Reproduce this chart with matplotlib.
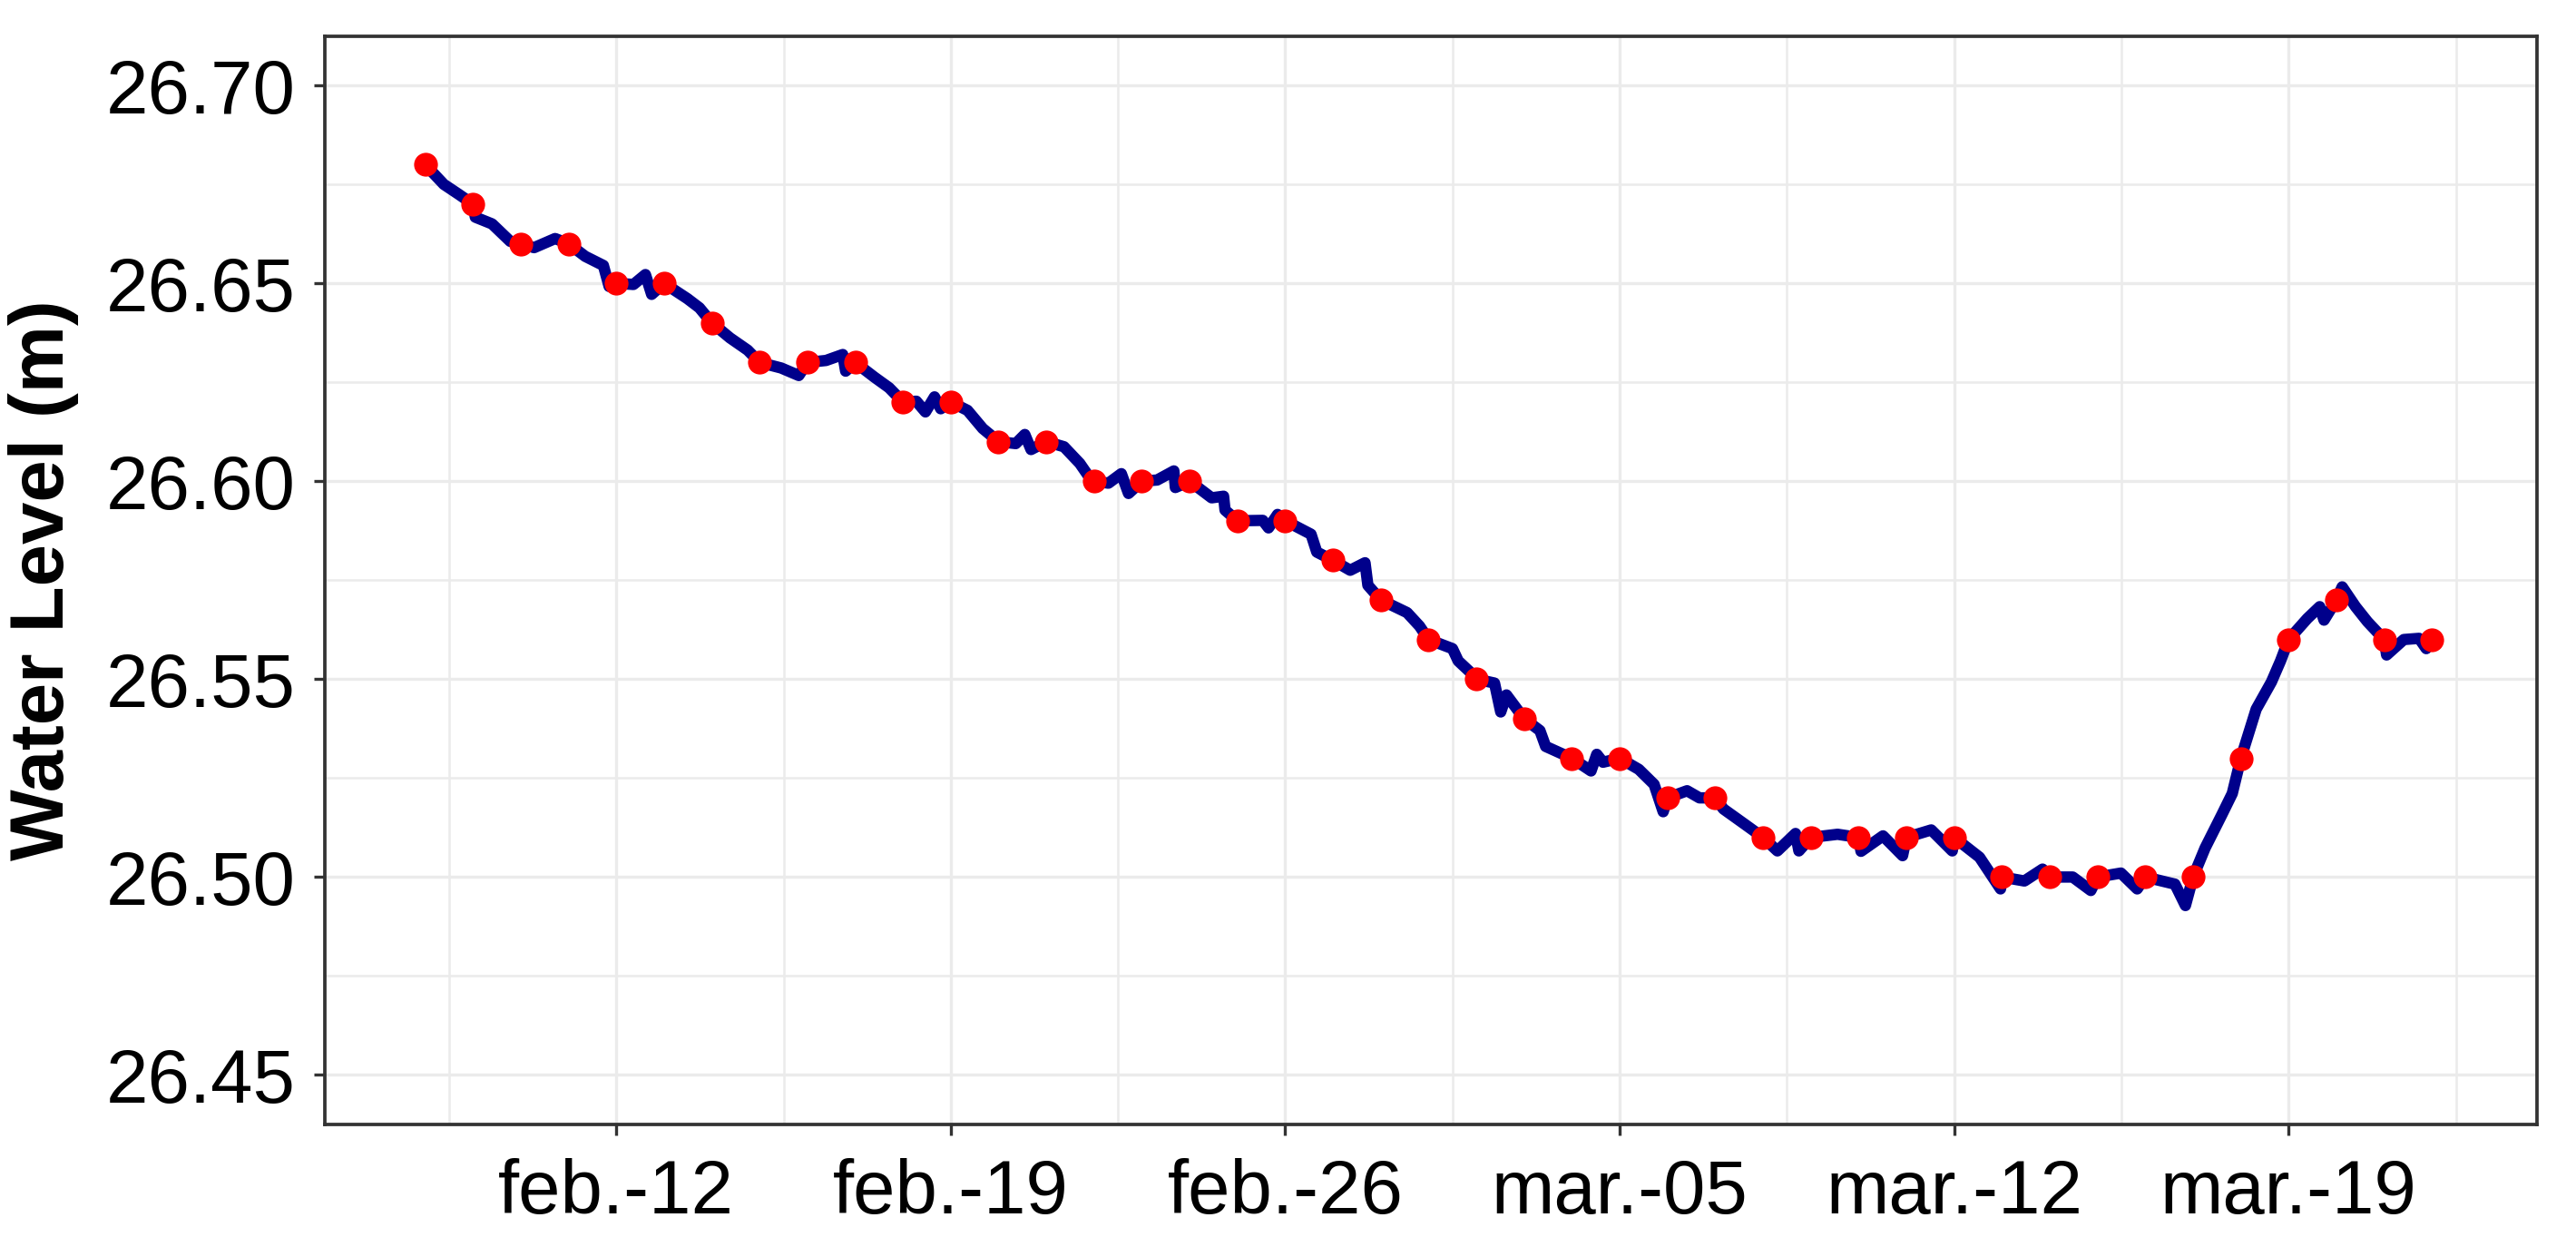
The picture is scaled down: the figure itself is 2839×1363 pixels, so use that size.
import numpy as np
import pandas as pd
import matplotlib
matplotlib.use("Agg")
import matplotlib.pyplot as plt
import matplotlib.dates as mdates

plt.rcParams['font.family'] = ['Liberation Sans', 'DejaVu Sans']

# continuous logger record: days after feb-12, water level (m)
line_day = [-4.0, -3.61, -3.3, -3.0, -2.95, -2.6, -2.22, -2.0, -1.72, -1.28, -1.0,
            -0.65, -0.27, -0.15, 0.0, 0.36, 0.61, 0.74, 1.0, 1.49, 1.74, 2.0, 2.38,
            2.75, 3.0, 3.45, 3.82, 4.0, 4.39, 4.74, 4.80, 5.0, 5.40, 5.71, 6.0, 6.28,
            6.47, 6.66, 6.79, 7.0, 7.35, 7.67, 8.0, 8.36, 8.55, 8.68, 9.0, 9.37, 9.7,
            9.9, 10.0, 10.3, 10.57, 10.72, 11.0, 11.32, 11.67, 11.70, 12.0, 12.46,
            12.71, 12.74, 13.0, 13.53, 13.65, 13.84, 14.0, 14.54, 14.66, 15.0, 15.36,
            15.67, 15.73, 16.0, 16.55, 16.81, 17.0, 17.5, 17.62, 17.85, 18.0, 18.38,
            18.51, 18.63, 19.0, 19.33, 19.45, 20.0, 20.4, 20.52, 20.65, 21.0, 21.4,
            21.72, 21.91, 22.0, 22.41, 22.67, 23.0, 23.17, 23.61, 24.0, 24.3, 24.68,
            24.75, 25.0, 25.56, 26.0, 26.05, 26.51, 26.92, 27.0, 27.52, 27.96, 28.0,
            28.53, 28.97, 29.0, 29.47, 29.85, 30.0, 30.48, 30.86, 31.0, 31.49, 31.83,
            32.0, 32.62, 32.84, 33.0, 33.25, 33.6, 33.82, 34.0, 34.32, 34.64, 34.83,
            35.0, 35.39, 35.65, 35.74, 36.0, 36.12, 36.40, 36.65, 37.0, 37.05, 37.41,
            37.73, 37.88, 38.0, 38.1]
line_level = [26.680, 26.675, 26.6725, 26.670, 26.6667, 26.665, 26.6606, 26.660,
              26.659, 26.6613, 26.660, 26.6568, 26.6545, 26.6492, 26.650, 26.6497,
              26.6522, 26.6472, 26.650, 26.6461, 26.6438, 26.640, 26.6362, 26.6331,
              26.630, 26.6286, 26.6267, 26.630, 26.6305, 26.6320, 26.6278, 26.630,
              26.6263, 26.6236, 26.620, 26.6202, 26.6175, 26.6213, 26.6183, 26.620,
              26.6179, 26.6133, 26.610, 26.6095, 26.6118, 26.6080, 26.610, 26.6087,
              26.6045, 26.601, 26.600, 26.5995, 26.6019, 26.5969, 26.600, 26.6003,
              26.6026, 26.5984, 26.600, 26.5958, 26.5962, 26.5927, 26.590, 26.5901,
              26.5882, 26.5916, 26.590, 26.5866, 26.5821, 26.580, 26.5775, 26.5794,
              26.5737, 26.570, 26.5668, 26.5634, 26.560, 26.5577, 26.5546, 26.552,
              26.550, 26.549, 26.5417, 26.546, 26.540, 26.537, 26.533, 26.530,
              26.5268, 26.531, 26.529, 26.530, 26.5272, 26.5234, 26.5165, 26.520,
              26.5218, 26.520, 26.520, 26.5172, 26.5134, 26.510, 26.5066, 26.511,
              26.5066, 26.510, 26.5108, 26.510, 26.5065, 26.5104, 26.5054, 26.510,
              26.5119, 26.5066, 26.510, 26.5050, 26.4970, 26.500, 26.499, 26.502,
              26.500, 26.500, 26.4966, 26.500, 26.501, 26.497, 26.500, 26.4982,
              26.4928, 26.500, 26.5073, 26.5157, 26.5211, 26.530, 26.5424, 26.5493,
              26.5546, 26.560, 26.5653, 26.5683, 26.5649, 26.570, 26.5733, 26.5683,
              26.5645, 26.560, 26.5561, 26.560, 26.5603, 26.5577, 26.560, 26.560]

# daily readings (red points)
point_first, point_last = "2021-02-08", "2021-03-22"
point_level = [26.68, 26.67, 26.66, 26.66, 26.65, 26.65, 26.64, 26.63, 26.63, 26.63,
               26.62, 26.62, 26.61, 26.61, 26.60, 26.60, 26.60, 26.59, 26.59, 26.58,
               26.57, 26.56, 26.55, 26.54, 26.53, 26.53, 26.52, 26.52, 26.51, 26.51,
               26.51, 26.51, 26.51, 26.50, 26.50, 26.50, 26.50, 26.50, 26.53, 26.56,
               26.57, 26.56, 26.56]

xtick_dates = ["2021-02-12", "2021-02-19", "2021-02-26", "2021-03-05", "2021-03-12", "2021-03-19"]
xtick_labels = ["feb.-12", "feb.-19", "feb.-26", "mar.-05", "mar.-12", "mar.-19"]
yticks = [26.45, 26.50, 26.55, 26.60, 26.65, 26.70]

ref = pd.Timestamp("2021-02-12")
line_time = ref + pd.to_timedelta(line_day, unit="D")
point_time = pd.date_range(point_first, point_last, freq="D")

fig = plt.figure(figsize=(2839 / 300, 1363 / 300), dpi=300)
ax = fig.add_axes([0.126, 0.091, 0.859, 0.880])

ax.plot(line_time, line_level, color="#00008B", lw=3.0, solid_joinstyle="round",
        solid_capstyle="round", zorder=3)
ax.plot(point_time, point_level, "o", color="red", ms=6.3, mec="none", zorder=4)

# axis limits with ggplot-like 5 % expansion
x0 = mdates.date2num(line_time[0])
x1 = mdates.date2num(line_time[-1])
ax.set_xlim(x0 - 0.05 * (x1 - x0), x1 + 0.05 * (x1 - x0))
ax.set_ylim(26.45 - 0.0125, 26.70 + 0.0125)

xt = mdates.date2num(pd.to_datetime(xtick_dates))
ax.set_xticks(xt)
ax.set_xticklabels(xtick_labels)
step = xt[1] - xt[0]
ax.set_xticks(np.r_[xt[0] - step / 2, xt + step / 2], minor=True)
ax.set_yticks(yticks)
ax.set_yticklabels([f"{v:.2f}" for v in yticks])
ax.set_yticks(np.array(yticks[:-1]) + 0.025, minor=True)

ax.grid(True, which="major", color="#EBEBEB", lw=0.8, zorder=0)
ax.grid(True, which="minor", color="#EBEBEB", lw=0.6, zorder=0)
ax.set_axisbelow(True)

ax.tick_params(which="major", length=2.8, width=0.8, color="#333333",
               labelsize=20, labelcolor="black")
ax.tick_params(axis="x", which="major", pad=6)
ax.tick_params(axis="y", which="major", pad=5)
ax.tick_params(which="minor", length=0)
for s in ax.spines.values():
    s.set_color("#333333")
    s.set_linewidth(0.9)

ax.set_ylabel("Water Level (m)", fontsize=20, fontweight="bold", labelpad=7)

fig.savefig("out.png", dpi=300)
